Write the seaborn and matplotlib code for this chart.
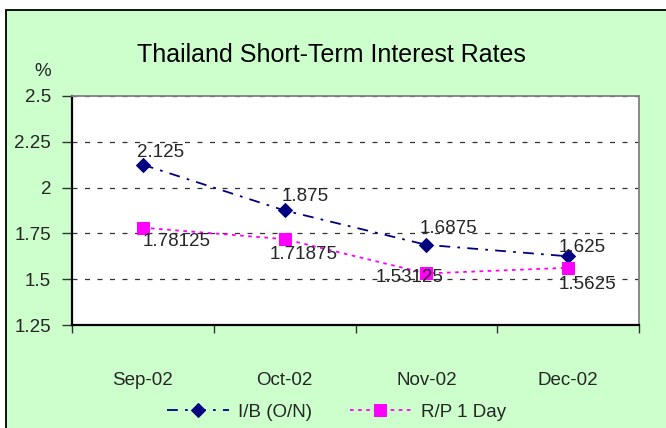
import matplotlib
matplotlib.use('Agg')
import matplotlib.pyplot as plt
from matplotlib.patches import Rectangle
import pandas as pd
import seaborn as sns

months = ['Sep-02', 'Oct-02', 'Nov-02', 'Dec-02']
ib_on = [2.125, 1.875, 1.6875, 1.625]
rp_1day = [1.78125, 1.71875, 1.53125, 1.5625]
y_ticks = [1.25, 1.5, 1.75, 2, 2.25, 2.5]
y_tick_labels = ['1.25', '1.5', '1.75', '2', '2.25', '2.5']

df = pd.DataFrame({'month': months, 'ib': ib_on, 'rp': rp_1day})

sns.set_style('white')
plt.rcParams['font.family'] = ['Liberation Sans', 'DejaVu Sans']

fs = 13.5
txt = '#262626'

fig = plt.figure(figsize=(6.66, 4.28), dpi=100)
fig.patch.set_facecolor('white')
fig.patches.append(Rectangle((6 / 666, -0.1), 1.0, (428 - 9.5) / 428 + 0.1,
                             transform=fig.transFigure, facecolor='#CCFFCC',
                             edgecolor='black', linewidth=1.3, zorder=-1))

ax = fig.add_axes([72 / 666, (428 - 325) / 428, (639 - 72) / 666, (325 - 96) / 428])
ax.set_facecolor('white')

sns.lineplot(data=df, x='month', y='ib', ax=ax, color='#000080', marker='D',
             markersize=7, markeredgecolor='#000080', linewidth=1.3,
             linestyle=(0, (6, 4, 1.5, 4)), label='I/B (O/N)', legend=False)
sns.lineplot(data=df, x='month', y='rp', ax=ax, color='#FF00FF', marker='s',
             markersize=8.5, markeredgecolor='#FF00FF', linewidth=1.3,
             linestyle=(0, (2, 2.5)), label='R/P 1 Day', legend=False)

# label offsets in points (layout only)
ib_off = [(13, 9), (15, 10), (16, 12), (10, 6)]
rp_off = [(24, -10), (14, -11), (-12, -3), (14, -12)]
for i, v in enumerate(ib_on):
    ax.annotate(f'{v:g}', (i, v), xytext=ib_off[i], textcoords='offset points',
                ha='center', va='center', fontsize=fs, color=txt)
for i, v in enumerate(rp_1day):
    ax.annotate(f'{v:g}', (i, v), xytext=rp_off[i], textcoords='offset points',
                ha='center', va='center', fontsize=fs, color=txt)

ax.set_ylim(1.25, 2.5)
ax.set_yticks(y_ticks)
ax.set_yticklabels(y_tick_labels)
ax.yaxis.grid(True, color='#333333', linestyle=(0, (4, 6)), linewidth=0.9)
ax.set_axisbelow(True)
ax.tick_params(axis='y', direction='out', length=7, width=1, color='#333333',
               labelsize=fs, labelcolor=txt, pad=8, left=True)

ax.set_xlim(-0.5, 3.5)
ax.set_xticks([-0.5, 0.5, 1.5, 2.5, 3.5])
ax.set_xticklabels([])
ax.set_xticks(range(len(months)), minor=True)
ax.set_xticklabels(months, minor=True)
ax.tick_params(axis='x', which='major', direction='out', length=6, width=1,
               color='#333333', bottom=True)
ax.tick_params(axis='x', which='minor', length=0, labelsize=fs, labelcolor=txt, pad=34)
ax.set_xlabel('')
ax.set_ylabel('')

for side in ['left', 'bottom']:
    ax.spines[side].set_color('black')
    ax.spines[side].set_linewidth(1.6)
for side in ['top', 'right']:
    ax.spines[side].set_color('#808080')
    ax.spines[side].set_linewidth(1.3)

fig.text(43 / 666, (428 - 72) / 428, '%', ha='center', va='center', fontsize=fs, color=txt)
fig.text(331 / 666, (428 - 55) / 428, 'Thailand Short-Term Interest Rates',
         ha='center', va='center', fontsize=18, color='black')

handles, labels = ax.get_legend_handles_labels()
fig.legend(handles, labels, loc='center', bbox_to_anchor=(0.505, (428 - 412) / 428),
           ncol=2, frameon=False, fontsize=fs, handlelength=3.3, handletextpad=0.5,
           columnspacing=2.0, numpoints=1, labelcolor=txt)

fig.savefig('out.png', dpi=100, facecolor=fig.get_facecolor())
plt.close(fig)
